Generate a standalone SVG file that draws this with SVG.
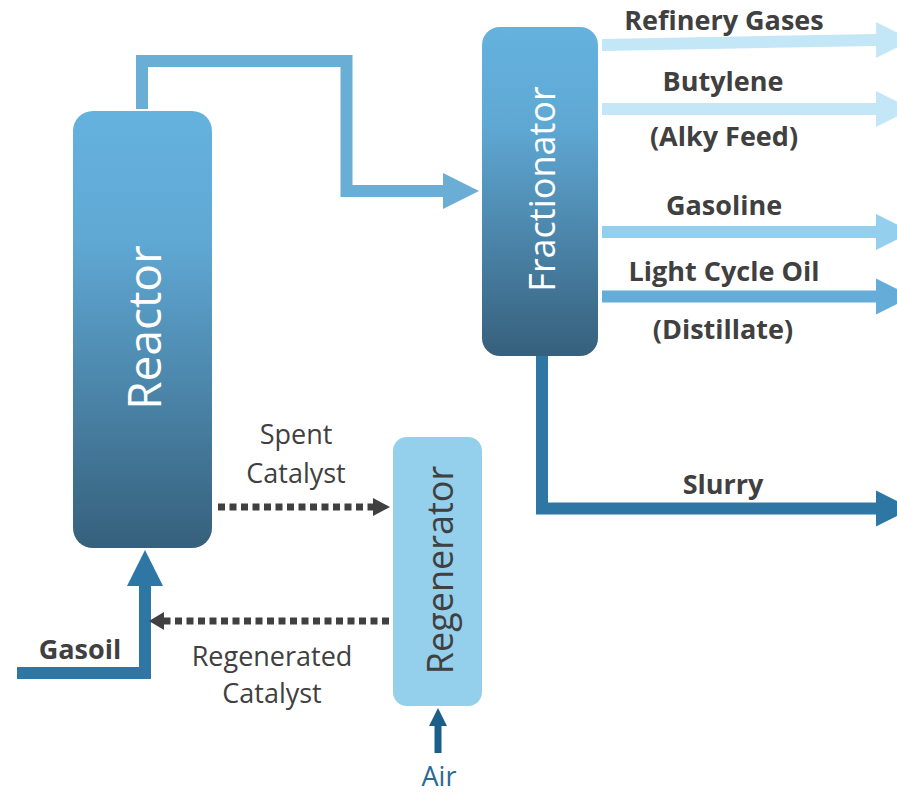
<svg xmlns="http://www.w3.org/2000/svg" width="897" height="795" viewBox="0 0 897 795">
<style>
.lbl{font-family:"Open Sans","Liberation Sans",sans-serif;font-size:27px;fill:#404040;text-anchor:middle}
.b{font-weight:700}
.vt{font-family:"Open Sans","Liberation Sans",sans-serif;text-anchor:middle}
.pipe{fill:none;stroke-linejoin:miter;stroke-linecap:butt}
.dot{fill:none;stroke:#404040;stroke-width:7;stroke-dasharray:7 4.5}
</style>
<defs>
<linearGradient id="vessel" x1="0" y1="0" x2="0" y2="1">
<stop offset="0" stop-color="#65b2de"/>
<stop offset="0.3" stop-color="#5fa8d4"/>
<stop offset="1" stop-color="#36607c"/>
</linearGradient>
</defs>
<rect width="897" height="795" fill="#ffffff"/>
<g id="connectors">
<path class="pipe" d="M142,109 V61 H346.5 V191 H443" stroke="#6aaed6" stroke-width="12"/>
<polygon points="443,173 479,191 443,209" fill="#6aaed6"/>
<polygon points="602,39 876,34 876,46 602,51" fill="#c4e7f8"/>
<polygon points="876,22 912,40 876,58" fill="#c4e7f8"/>
<path class="pipe" d="M602,109 H876" stroke="#c4e7f8" stroke-width="12"/>
<polygon points="876,91 912,109 876,127" fill="#c4e7f8"/>
<path class="pipe" d="M602,232 H876" stroke="#94d0ee" stroke-width="12"/>
<polygon points="876,214 912,232 876,250" fill="#94d0ee"/>
<path class="pipe" d="M602,296.5 H876" stroke="#66acd8" stroke-width="12"/>
<polygon points="876,278.5 912,296.5 876,314.5" fill="#66acd8"/>
<path class="pipe" d="M542,356 V508.5 H876" stroke="#2e77a5" stroke-width="12"/>
<polygon points="876,490.5 912,508.5 876,526.5" fill="#2e77a5"/>
<path class="pipe" d="M17,673 H145 V586" stroke="#2e77a5" stroke-width="12"/>
<polygon points="127,586 145,550 163,586" fill="#2e77a5"/>
<path class="dot" d="M218,507 H373"/>
<polygon points="373,498 390,507 373,516" fill="#404040"/>
<path class="dot" d="M389,621 H164"/>
<polygon points="164,612 149,621 164,630" fill="#404040"/>
<path class="pipe" d="M438,753 V725" stroke="#1b5e8a" stroke-width="7"/>
<polygon points="429,726 438,708 447,726" fill="#1b5e8a"/>
</g>
<g id="reactor">
<rect x="73" y="111" width="139" height="437" rx="20" fill="url(#vessel)"/>
<text class="vt" transform="translate(161,327.5) rotate(-90)" font-size="46" fill="#ffffff">Reactor</text>
</g>
<g id="fractionator">
<rect x="482" y="27" width="116" height="329" rx="18" fill="url(#vessel)"/>
<text class="vt" transform="translate(555,189) rotate(-90)" font-size="36" fill="#ffffff">Fractionator</text>
</g>
<g id="regenerator">
<rect x="393" y="437" width="89" height="269" rx="14" fill="#94cfec"/>
<text class="vt" transform="translate(453,570) rotate(-90)" font-size="36" fill="#404040">Regenerator</text>
</g>
<g id="labels">
<text class="lbl b" x="724" y="30">Refinery Gases</text>
<text class="lbl b" x="723" y="91">Butylene</text>
<text class="lbl b" x="724" y="146">(Alky Feed)</text>
<text class="lbl b" x="724" y="215">Gasoline</text>
<text class="lbl b" x="724" y="281">Light Cycle Oil</text>
<text class="lbl b" x="723" y="339">(Distillate)</text>
<text class="lbl b" x="723" y="494">Slurry</text>
<text class="lbl b" x="80" y="659">Gasoil</text>
<text class="lbl" x="296" y="444">Spent</text>
<text class="lbl" x="296" y="483">Catalyst</text>
<text class="lbl" x="272" y="666">Regenerated</text>
<text class="lbl" x="272" y="703">Catalyst</text>
<text class="lbl" x="439" y="786" style="fill:#2a6a96">Air</text>
</g>
</svg>
